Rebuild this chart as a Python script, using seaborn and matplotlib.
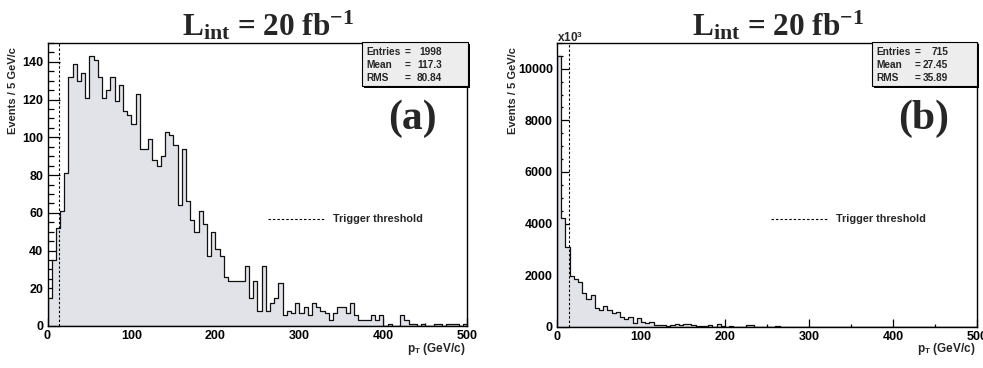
import numpy as np
import pandas as pd
import matplotlib
matplotlib.use("Agg")
import matplotlib.pyplot as plt
from matplotlib.patches import Rectangle
from matplotlib.lines import Line2D
from matplotlib.ticker import MultipleLocator
import seaborn as sns

# ---------------- data ----------------
bin_edges = list(range(0, 505, 5))
counts_a = [15, 35, 52, 61, 81, 132, 139, 130, 134, 121,
            143, 141, 132, 121, 125, 132, 119, 128, 114, 112,
            107, 123, 94, 94, 99, 88, 85, 90, 103, 101,
            96, 64, 94, 66, 56, 50, 61, 54, 37, 50,
            41, 37, 26, 24, 24, 24, 24, 32, 15, 24,
            8, 32, 8, 12, 15, 23, 6, 8, 7, 12,
            7, 10, 6, 12, 10, 8, 7, 3, 7, 10,
            10, 7, 12, 6, 3, 3, 3, 6, 3, 6,
            0, 1, 0, 0, 6, 3, 1, 1, 0, 1,
            0, 0, 1, 1, 0, 1, 1, 1, 0, 1]
counts_b = [10500, 4200, 3100, 1980, 1850, 1720, 1300, 1060, 1230, 710,
            650, 800, 650, 545, 580, 390, 285, 360, 155, 325,
            195, 130, 195, 65, 65, 65, 26, 50, 100, 65,
            115, 90, 75, 40, 20, 20, 60, 0, 90, 30,
            0, 40, 0, 0, 0, 50, 50, 0, 0, 0,
            0, 0, 40, 0, 0, 0, 0, 0, 0, 0,
            0, 0, 0, 0, 0, 0, 0, 0, 0, 0,
            0, 0, 0, 0, 0, 0, 0, 0, 0, 0,
            0, 0, 0, 0, 0, 0, 0, 0, 0, 0,
            0, 0, 0, 0, 0, 0, 0, 0, 0, 0]
stat_labels = ["Entries", "Mean", "RMS"]
stats_a = ["1998", "117.3", "80.84"]
stats_b = ["715", "27.45", "35.89"]
panel_labels = ["(a)", "(b)"]
trigger_pt = 14
y_ticks_a = list(range(0, 141, 20))
y_ticks_b = list(range(0, 10001, 2000))
x_ticks = list(range(0, 501, 100))
title_text = r"L$_{\mathbf{int}}$ = 20 fb$^{\mathbf{-1}}$"
ylabel_text = "Events / 5 GeV/c"
xlabel_text = r"p$_{\mathsf{T}}$ (GeV/c)"
legend_text = "Trigger threshold"

# ---------------- style ----------------
sns.set_style("ticks")
plt.rcParams["font.family"] = ["Liberation Sans", "DejaVu Sans"]
plt.rcParams["font.weight"] = "bold"
plt.rcParams["mathtext.fontset"] = "custom"
plt.rcParams["mathtext.rm"] = "Liberation Serif:bold"
plt.rcParams["mathtext.bf"] = "Liberation Serif:bold"
plt.rcParams["mathtext.it"] = "Liberation Serif:bold"
plt.rcParams["mathtext.sf"] = "Liberation Sans:bold"

W, H = 983, 368
fig = plt.figure(figsize=(W / 100, H / 100), dpi=100)
fig.patch.set_facecolor("white")


def fx(x):
    return x / W


def fy(y):
    return 1 - y / H


FILL = "#e2e3e8"
EDGE = "#111111"

panels = [
    dict(x0=47.5, x1=467.3, y0=326.0, y1=43.0, counts=counts_a, ymax=150,
         yticks=y_ticks_a, yminor=5, stats=stats_a, label=panel_labels[0],
         box=(362, 468, 42, 86), tx=(366, 408, 442), lab_xy=(412, 119),
         title_x=182, ylab_x=12.8, leg=(268, 325, 333)),
    dict(x0=557.0, x1=977.0, y0=326.7, y1=43.0, counts=counts_b, ymax=11000,
         yticks=y_ticks_b, yminor=500, stats=stats_b, label=panel_labels[1],
         box=(872, 977, 42, 86), tx=(876, 918, 948), lab_xy=(924, 119),
         title_x=692, ylab_x=513, leg=(771, 827, 836)),
]

centers = [e + 2.5 for e in bin_edges[:-1]]

for p in panels:
    ax = fig.add_axes([fx(p["x0"]), fy(p["y0"]), (p["x1"] - p["x0"]) / W,
                       (p["y0"] - p["y1"]) / H])
    df = pd.DataFrame({"pt": centers, "w": p["counts"]})
    sns.histplot(data=df, x="pt", weights="w", bins=bin_edges, element="step",
                 fill=True, color=FILL, edgecolor=EDGE, linewidth=0.9,
                 alpha=1, ax=ax)
    ax.set_xlim(0, 500)
    ax.set_ylim(0, p["ymax"])
    ax.set_xlabel("")
    ax.set_ylabel("")
    ax.set_xticks(x_ticks)
    ax.xaxis.set_minor_locator(MultipleLocator(50))
    ax.set_yticks(p["yticks"])
    ax.yaxis.set_minor_locator(MultipleLocator(p["yminor"]))
    ax.tick_params(axis="both", which="both", direction="in", top=False,
                   right=False, colors="black", labelsize=9, width=0.9)
    ax.tick_params(axis="x", which="major", length=5.5, pad=3)
    ax.tick_params(axis="x", which="minor", length=2.5)
    ax.tick_params(axis="y", which="major", length=8.5, pad=3)
    ax.tick_params(axis="y", which="minor", length=4.3)
    for lab in ax.get_xticklabels() + ax.get_yticklabels():
        lab.set_fontweight("bold")
    for s in ax.spines.values():
        s.set_visible(True)
        s.set_color("black")
        s.set_linewidth(1.0)
    ax.set_facecolor("white")
    ax.axvline(trigger_pt, color="black", lw=0.8, ls=(0, (2.2, 1.8)))

    # title
    fig.text(fx(p["title_x"]), fy(35), title_text, ha="left", va="baseline",
             fontsize=22.5, fontfamily="Liberation Serif", fontweight="bold")
    # y label
    fig.text(fx(p["ylab_x"]), fy(47), ylabel_text, rotation=90, ha="center",
             va="top", fontsize=8, fontweight="bold")
    # x label
    fig.text(fx(p["x1"] - 2), fy(349), xlabel_text, ha="right", va="center",
             fontsize=8.5, fontweight="bold")

    # stat box with shadow
    bx0, bx1, by0, by1 = p["box"]
    fig.patches.append(Rectangle((fx(bx0 + 1.6), fy(by1 + 1.6)), (bx1 - bx0) / W,
                                 (by1 - by0) / H, transform=fig.transFigure,
                                 facecolor="black", edgecolor="none", zorder=5))
    fig.patches.append(Rectangle((fx(bx0), fy(by1)), (bx1 - bx0) / W,
                                 (by1 - by0) / H, transform=fig.transFigure,
                                 facecolor="#ededed", edgecolor="black",
                                 linewidth=0.8, zorder=6))
    for i, (sl, sv) in enumerate(zip(stat_labels, p["stats"])):
        yy = fy(52 + 13 * i)
        fig.text(fx(p["tx"][0]), yy, sl, ha="left", va="center", fontsize=7.3,
                 fontweight="bold", zorder=7)
        fig.text(fx(p["tx"][1]), yy, "=", ha="center", va="center",
                 fontsize=7.3, fontweight="bold", zorder=7)
        fig.text(fx(p["tx"][2]), yy, sv, ha="right", va="center",
                 fontsize=7.3, fontweight="bold", zorder=7)

    # panel label
    fig.text(fx(p["lab_xy"][0]), fy(p["lab_xy"][1]), p["label"], ha="center",
             va="center", fontsize=30, fontfamily="Liberation Serif",
             fontweight="bold", zorder=7)

    # legend entry
    lx0, lx1, tx0 = p["leg"]
    fig.lines.append(Line2D([fx(lx0), fx(lx1)], [fy(219.3), fy(219.3)],
                            transform=fig.transFigure, color="black", lw=0.8,
                            ls=(0, (2.2, 1.8))))
    fig.text(fx(tx0), fy(219.3), legend_text, ha="left", va="center",
             fontsize=7.8, fontweight="bold")

# multiplier for right panel
fig.text(fx(557), fy(41.7), r"x10$^{\mathsf{3}}$", ha="left", va="baseline",
         fontsize=8.5, fontweight="bold")

fig.savefig("out.png", dpi=100)
